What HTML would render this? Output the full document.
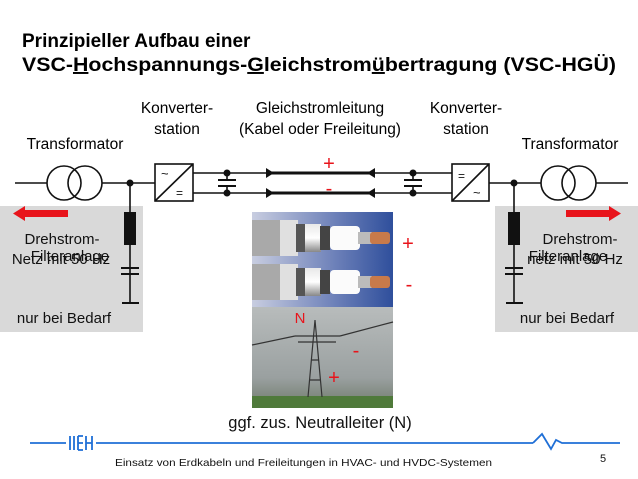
<!DOCTYPE html>
<html><head><meta charset="utf-8"><style>
html,body{margin:0;padding:0;background:#fff;}
svg{display:block;font-family:"Liberation Sans",sans-serif;}
</style></head><body>
<svg width="638" height="479" viewBox="0 0 638 479" xmlns="http://www.w3.org/2000/svg">
<defs>
<linearGradient id="bl" x1="0" x2="1" y1="0" y2="0"><stop offset="0" stop-color="#c8cde0"/><stop offset="0.6" stop-color="#6b7fb8"/><stop offset="1" stop-color="#2f4f9c"/></linearGradient>
<linearGradient id="sk" x1="0" x2="0" y1="0" y2="1"><stop offset="0" stop-color="#b8bcbc"/><stop offset="0.7" stop-color="#9aa0a0"/><stop offset="1" stop-color="#6f7a6a"/></linearGradient>
<linearGradient id="cb" x1="0" x2="0" y1="0" y2="1"><stop offset="0" stop-color="#e8e8e8"/><stop offset="0.5" stop-color="#fff"/><stop offset="1" stop-color="#888"/></linearGradient>
</defs>
<text x="22" y="47" font-size="19" font-weight="bold">Prinzipieller Aufbau einer</text>
<text x="22" y="71" font-size="19.5" font-weight="bold" textLength="594" lengthAdjust="spacingAndGlyphs">VSC-<tspan text-decoration="underline">H</tspan>ochspannungs-<tspan text-decoration="underline">G</tspan>leichstrom<tspan text-decoration="underline">ü</tspan>bertragung (VSC-HGÜ)</text>
<g font-size="15.5" text-anchor="middle">
<text x="177" y="113">Konverter-</text><text x="177" y="134">station</text>
<text x="320" y="113">Gleichstromleitung</text><text x="320" y="134">(Kabel oder Freileitung)</text>
<text x="466" y="113">Konverter-</text><text x="466" y="134">station</text>
<text x="75" y="149">Transformator</text><text x="570" y="149">Transformator</text>
</g>
<rect x="0" y="206" width="143" height="126" fill="#d9d9d9"/>
<rect x="495" y="206" width="143" height="126" fill="#d9d9d9"/>
<g stroke="#111" stroke-width="1.6" fill="none">
<line x1="15" y1="183" x2="47" y2="183"/>
<circle cx="64" cy="183" r="17"/><circle cx="85" cy="183" r="17"/>
<line x1="102" y1="183" x2="155" y2="183"/>
<line x1="130" y1="183" x2="130" y2="303"/>
<rect x="155" y="164" width="38" height="37"/>
<line x1="155" y1="201" x2="193" y2="164"/>
<line x1="193" y1="173" x2="268" y2="173"/><line x1="193" y1="193" x2="268" y2="193"/>
<line x1="373" y1="173" x2="452" y2="173"/><line x1="373" y1="193" x2="452" y2="193"/>
<line x1="227" y1="173" x2="227" y2="180"/><line x1="227" y1="186" x2="227" y2="193"/>
<line x1="413" y1="173" x2="413" y2="180"/><line x1="413" y1="186" x2="413" y2="193"/>
<rect x="452" y="164" width="37" height="37"/>
<line x1="452" y1="201" x2="489" y2="164"/>
<line x1="489" y1="183" x2="541" y2="183"/>
<circle cx="558" cy="183" r="17"/><circle cx="579" cy="183" r="17"/>
<line x1="596" y1="183" x2="628" y2="183"/>
<line x1="514" y1="183" x2="514" y2="303"/>
</g>
<g stroke="#111" stroke-width="2">
<line x1="218" y1="180" x2="236" y2="180"/><line x1="218" y1="186" x2="236" y2="186"/>
<line x1="404" y1="180" x2="422" y2="180"/><line x1="404" y1="186" x2="422" y2="186"/>
<line x1="121" y1="268" x2="139" y2="268"/><line x1="121" y1="274" x2="139" y2="274"/>
<line x1="122" y1="303" x2="139" y2="303"/>
<line x1="505" y1="268" x2="523" y2="268"/><line x1="505" y1="274" x2="523" y2="274"/>
<line x1="506" y1="303" x2="523" y2="303"/>
</g>
<g stroke="#111" stroke-width="3"><line x1="268" y1="173" x2="373" y2="173"/><line x1="268" y1="193" x2="373" y2="193"/></g>
<g fill="#111">
<polygon points="266,168 274,173 266,178"/><polygon points="266,188 274,193 266,198"/>
<polygon points="375,168 367,173 375,178"/><polygon points="375,188 367,193 375,198"/>
<circle cx="130" cy="183" r="3.5"/><circle cx="514" cy="183" r="3.5"/>
<circle cx="227" cy="173" r="3.5"/><circle cx="227" cy="193" r="3.5"/>
<circle cx="413" cy="173" r="3.5"/><circle cx="413" cy="193" r="3.5"/>
<rect x="124" y="212" width="12" height="33"/><rect x="508" y="212" width="12" height="33"/>
</g>
<g font-size="13" fill="#111">
<text x="161" y="178">~</text><text x="176" y="197" font-size="12">=</text>
<text x="458" y="180" font-size="12">=</text><text x="473" y="197">~</text>
</g>
<g fill="#e8141b">
<rect x="24" y="210" width="44" height="7"/><polygon points="13,213.5 25,206 25,221"/>
<rect x="566" y="210" width="44" height="7"/><polygon points="621,213.5 609,206 609,221"/>
</g>
<g font-size="15" text-anchor="middle" fill="#111">
<text x="62" y="244">Drehstrom-</text><text x="70" y="261">Filteranlage</text><text x="61" y="264">Netz mit 50 Hz</text>
<text x="64" y="323">nur bei Bedarf</text>
<text x="580" y="244">Drehstrom-</text><text x="568" y="261">Filteranlage</text><text x="575" y="264">netz mit 50 Hz</text>
<text x="567" y="323">nur bei Bedarf</text>
</g>
<rect x="252" y="212" width="141" height="95" fill="url(#bl)"/>
<g>
<rect x="252" y="220" width="30" height="36" fill="#a9a9a9"/>
<rect x="280" y="220" width="18" height="36" fill="#e0e0e0"/>
<rect x="296" y="224" width="10" height="28" fill="#555"/>
<rect x="305" y="224" width="16" height="28" fill="url(#cb)"/>
<rect x="320" y="226" width="10" height="24" fill="#444"/>
<rect x="330" y="226" width="30" height="24" fill="#fbfbfb" rx="4"/>
<rect x="358" y="232" width="14" height="12" fill="#bbb"/>
<rect x="370" y="232" width="20" height="12" fill="#c87a4a" rx="3"/>
<rect x="252" y="264" width="30" height="36" fill="#a9a9a9"/>
<rect x="280" y="264" width="18" height="36" fill="#e0e0e0"/>
<rect x="296" y="268" width="10" height="28" fill="#555"/>
<rect x="305" y="268" width="16" height="28" fill="url(#cb)"/>
<rect x="320" y="270" width="10" height="24" fill="#444"/>
<rect x="330" y="270" width="30" height="24" fill="#fbfbfb" rx="4"/>
<rect x="358" y="276" width="14" height="12" fill="#bbb"/>
<rect x="370" y="276" width="20" height="12" fill="#c87a4a" rx="3"/>
</g>
<rect x="252" y="307" width="141" height="101" fill="url(#sk)"/>
<rect x="252" y="396" width="141" height="12" fill="#4f7a3a"/>
<g stroke="#333" stroke-width="1.2" fill="none">
<path d="M308,397 L315,320 L322,397 M311,360 L319,360 M309,380 L321,380 M295,336 L340,336 M298,342 L336,342"/>
<path d="M340,336 L393,322 M295,336 L252,345"/>
</g>
<g fill="#e8141b" font-size="20" text-anchor="middle">
<text x="329" y="170">+</text><text x="329" y="195">-</text>
<text x="408" y="250">+</text><text x="409" y="291">-</text>
<text x="356" y="357">-</text><text x="334" y="384">+</text>
<text x="300" y="323" font-size="15">N</text>
</g>
<g fill="#111" font-size="16.5" text-anchor="middle"><text x="320" y="428">ggf. zus. Neutralleiter (N)</text></g>
<g stroke="#1f6fd6" stroke-width="1.8" fill="none">
<line x1="30" y1="443" x2="66" y2="443"/>
<line x1="70" y1="436" x2="70" y2="450"/><line x1="74" y1="436" x2="74" y2="450"/>
<path d="M78,436 V450 M78,436 H83 M78,443 H83 M78,450 H83"/>
<path d="M86,436 V450 M86,443 H92 M92,436 V450"/>
<line x1="96" y1="443" x2="533" y2="443"/>
<path d="M533,443 L542,434 L551,449 L556,440 L562,443 L620,443"/>
</g>
<text x="115" y="466" font-size="10.5" fill="#111" textLength="377" lengthAdjust="spacingAndGlyphs">Einsatz von Erdkabeln und Freileitungen in HVAC-  und  HVDC-Systemen</text>
<text x="600" y="462" font-size="11" fill="#111">5</text>
</svg>
</body></html>
